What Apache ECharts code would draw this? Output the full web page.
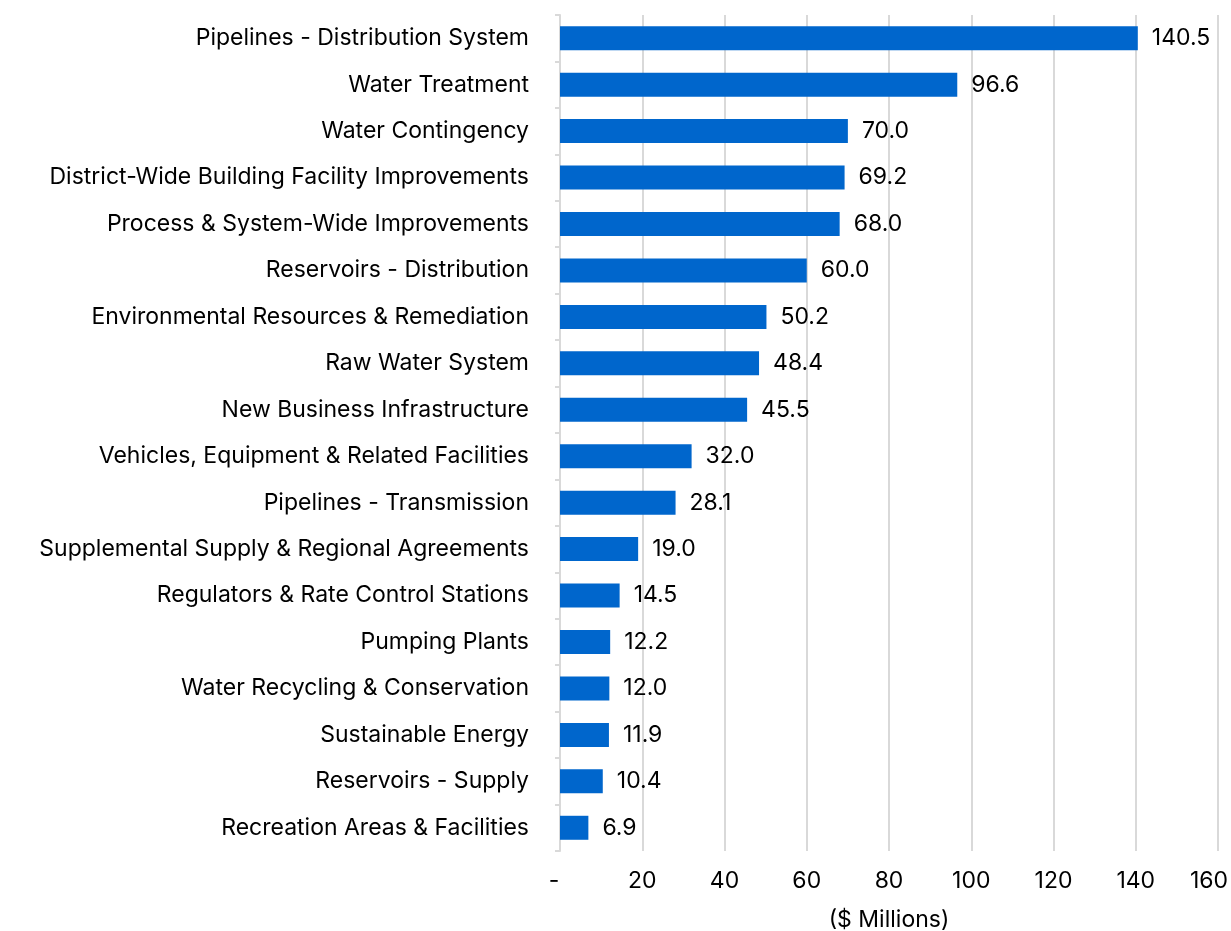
<!DOCTYPE html>
<html>
<head>
<meta charset="utf-8">
<script src="https://cdn.jsdelivr.net/npm/echarts@6/dist/echarts.min.js"></script>
<style>
  html, body { margin: 0; padding: 0; background: #fff; }
  #chart { width: 1231px; height: 931px; }
</style>
</head>
<body>
<div id="chart"></div>
<script>
const categories = [
  'Pipelines - Distribution System',
  'Water Treatment',
  'Water Contingency',
  'District-Wide Building Facility Improvements',
  'Process & System-Wide Improvements',
  'Reservoirs - Distribution',
  'Environmental Resources & Remediation',
  'Raw Water System',
  'New Business Infrastructure',
  'Vehicles, Equipment & Related Facilities',
  'Pipelines - Transmission',
  'Supplemental Supply & Regional Agreements',
  'Regulators & Rate Control Stations',
  'Pumping Plants',
  'Water Recycling & Conservation',
  'Sustainable Energy',
  'Reservoirs - Supply',
  'Recreation Areas & Facilities'
]
const amounts = [140.5, 96.6, 70.0, 69.2, 68.0, 60.0, 50.2, 48.4, 45.5, 32.0, 28.1, 19.0, 14.5, 12.2, 12.0, 11.9, 10.4, 6.9]

const font = 'Inter, "Noto Sans", sans-serif'
const chart = echarts.init(document.getElementById('chart'))

chart.setOption({
  animation: false,
  textStyle: { fontFamily: font },
  grid: { left: 560, right: 13, top: 15, bottom: 80, containLabel: false, outerBoundsMode: 'none' },
  xAxis: {
    type: 'value',
    min: 0,
    max: 160,
    interval: 20,
    name: '($ Millions)',
    nameLocation: 'middle',
    nameGap: 58,
    nameTextStyle: { fontSize: 23, color: '#000', fontFamily: font },
    axisLine: { show: false },
    axisTick: { show: false },
    axisLabel: {
      fontSize: 23,
      color: '#000',
      margin: 19,
      // last label sits a bit inward so it stays inside the frame
      formatter: v => (v === 0 ? '{z|-}' : v === 160 ? '{m|' + v + '}' : String(v)),
      rich: {
        z: { fontSize: 23, color: '#000', padding: [0, 12, 0, 0] },
        m: { fontSize: 23, color: '#000', padding: [0, 18, 0, 0] }
      }
    },
    splitLine: { lineStyle: { color: '#d9d9d9', width: 2 } }
  },
  yAxis: {
    type: 'category',
    data: categories,
    inverse: true,
    axisLine: { lineStyle: { color: '#d9d9d9', width: 2 } },
    axisTick: { show: true, length: 5, lineStyle: { color: '#d9d9d9', width: 2 } },
    axisLabel: { fontSize: 23, color: '#000', margin: 31 }
  },
  series: [{
    type: 'bar',
    data: amounts,
    barWidth: 24,
    itemStyle: { color: '#0066CC' },
    label: {
      show: true,
      position: 'right',
      distance: 14,
      fontSize: 23,
      color: '#000',
      formatter: p => p.value.toFixed(1)
    }
  }]
})
</script>
</body>
</html>
